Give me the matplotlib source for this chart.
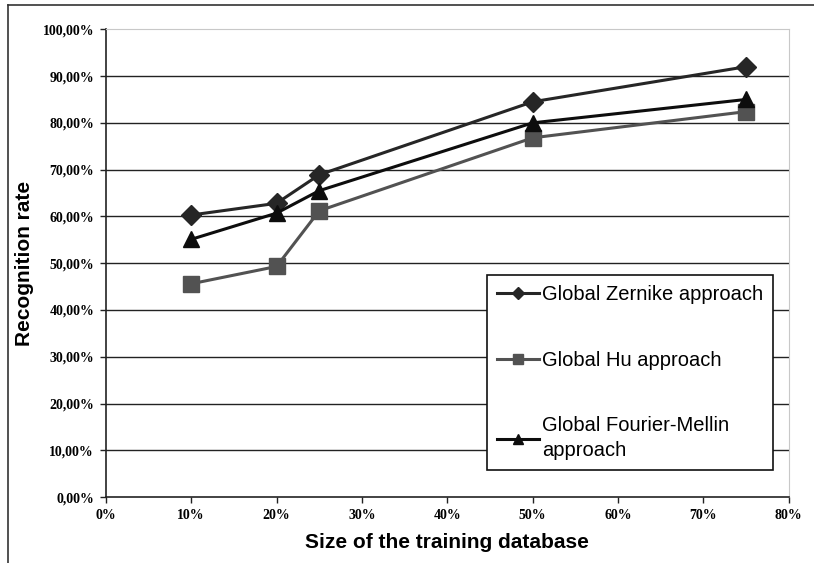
import matplotlib.pyplot as plt
from matplotlib.lines import Line2D

sizes = [10, 20, 25, 50, 75]
zernike = [60.3, 62.8, 68.9, 84.5, 92.0]
hu = [45.6, 49.3, 61.2, 76.8, 82.4]
fourier = [55.1, 60.7, 65.5, 80.0, 85.0]

labels = ['Global Zernike approach', 'Global Hu approach',
          'Global Fourier-Mellin\napproach']
y_ticks = list(range(0, 101, 10))
x_ticks = list(range(0, 81, 10))

fig = plt.figure(figsize=(8.14, 5.63), dpi=100)
ax = fig.add_axes([0.130, 0.117, 0.839, 0.831])

# outer chart frame (only top and left edge visible)
fig.add_artist(Line2D([8/814, 1], [1 - 5/563, 1 - 5/563], color='#333333', lw=1.2))
fig.add_artist(Line2D([8/814, 8/814], [0, 1 - 5/563], color='#333333', lw=1.2))

for yv in y_ticks[1:-1]:
    ax.axhline(yv, color='#222222', lw=1.0, zorder=1)

ax.plot(sizes, zernike, color='#262626', lw=2.2, marker='D', ms=10, label=labels[0], zorder=3)
ax.plot(sizes, hu, color='#525252', lw=2.2, marker='s', ms=12, label=labels[1], zorder=3)
ax.plot(sizes, fourier, color='#0d0d0d', lw=2.2, marker='^', ms=12, label=labels[2], zorder=3)

ax.set_xlim(0, 80)
ax.set_ylim(0, 100)
ax.set_yticks(y_ticks)
ax.set_yticklabels(['%d,00%%' % v for v in y_ticks])
ax.set_xticks(x_ticks)
ax.set_xticklabels(['%d%%' % v for v in x_ticks])
for lab in ax.get_xticklabels() + ax.get_yticklabels():
    lab.set_fontweight('bold')
    lab.set_fontsize(10)
    lab.set_family('Liberation Serif')
ax.tick_params(axis='both', direction='out', length=4.5, width=1, color='#222222', pad=4)

for s in ['top', 'right']:
    ax.spines[s].set_color('#c8c8c8')
for s in ['left', 'bottom']:
    ax.spines[s].set_color('#222222')
    ax.spines[s].set_linewidth(1.2)

ax.set_xlabel('Size of the training database', fontsize=15, fontweight='bold',
              family='Liberation Sans', labelpad=8)
ax.set_ylabel('Recognition rate', fontsize=15, fontweight='bold',
              family='Liberation Sans', labelpad=6)

leg = ax.legend(loc='upper left', bbox_to_anchor=(0.558, 0.474), frameon=True,
                fancybox=False, edgecolor='#111111', framealpha=1,
                prop={'family': 'Liberation Sans', 'size': 14.5},
                labelspacing=2.3, handlelength=2.1, handletextpad=0.15,
                borderpad=0.5, borderaxespad=0, markerscale=0.6)
leg.get_frame().set_linewidth(1.2)
leg.get_texts()[2].set_linespacing(1.4)

fig.savefig('out.png', dpi=100)
